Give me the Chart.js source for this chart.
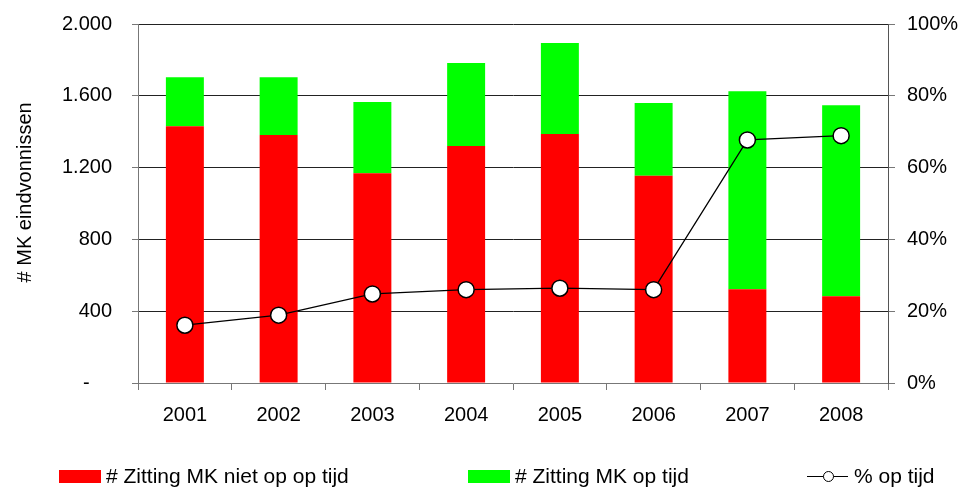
<!DOCTYPE html>
<html>
<head>
<meta charset="utf-8">
<script src="https://cdn.jsdelivr.net/npm/chart.js@4.4.1/dist/chart.umd.min.js"></script>
<style>
  html, body { margin: 0; padding: 0; background: #fff; }
  #wrap { position: relative; width: 965px; height: 487px; overflow: hidden; font-family: "Liberation Sans", Arial, sans-serif; }
  #c { position: absolute; left: 0; top: 0; }
  .lg { position: absolute; top: 464px; height: 24px; line-height: 24px; font-size: 21px; color: #000; white-space: nowrap; }
  .sw { position: absolute; top: 6px; width: 42px; height: 13px; }
  .ln { position: absolute; top: 12px; left: 0; width: 41px; height: 1px; background: #000; }
  .pt { position: absolute; top: 7px; left: 16px; width: 9px; height: 9px; border: 1px solid #000; border-radius: 50%; background: #fff; }
</style>
</head>
<body>
<div id="wrap">
  <canvas id="c" width="965" height="487"></canvas>
  <div id="legend"></div>
</div>
<script>
// ---- data ----
const years = ['2001', '2002', '2003', '2004', '2005', '2006', '2007', '2008'];
const nietOpTijd = [1431, 1381, 1169, 1321, 1387, 1154, 522, 483];
const opTijd = [273, 323, 396, 462, 507, 406, 1104, 1065];
const pctOpTijd = [16.1, 18.9, 24.8, 26.0, 26.4, 26.0, 67.7, 68.9];
const leftTickLabels = ['-', '400', '800', '1.200', '1.600', '2.000'];
const rightTickLabels = ['0%', '20%', '40%', '60%', '80%', '100%'];
const seriesNames = ['# Zitting MK niet op op tijd', '# Zitting MK op tijd', '% op tijd'];
const yTitle = '# MK eindvonnissen';

Chart.defaults.font.family = '"Liberation Sans", Arial, sans-serif';
Chart.defaults.font.size = 20;
Chart.defaults.color = '#000';

const gridDark = '#222';
const axisGray = '#777';

new Chart(document.getElementById('c'), {
  type: 'bar',
  data: {
    labels: years,
    datasets: [
      {
        type: 'line',
        label: seriesNames[2],
        data: pctOpTijd,
        yAxisID: 'y1',
        borderColor: '#000',
        borderWidth: 1.3,
        pointRadius: 8,
        pointBorderWidth: 1.5,
        pointBackgroundColor: '#fff',
        pointBorderColor: '#000',
        tension: 0,
        order: 0
      },
      {
        label: seriesNames[0],
        data: nietOpTijd,
        backgroundColor: '#ff0000',
        yAxisID: 'y',
        stack: 's',
        barPercentage: 0.405,
        categoryPercentage: 1,
        order: 1
      },
      {
        label: seriesNames[1],
        data: opTijd,
        backgroundColor: '#00ff00',
        yAxisID: 'y',
        stack: 's',
        barPercentage: 0.405,
        categoryPercentage: 1,
        order: 1
      }
    ]
  },
  options: {
    responsive: false,
    animation: false,
    devicePixelRatio: 1,
    layout: { padding: { top: 24, bottom: 64, left: 0, right: 0 } },
    plugins: { legend: { display: false }, tooltip: { enabled: false } },
    scales: {
      x: {
        stacked: true,
        offset: true,
        grid: { offset: true, drawOnChartArea: false, drawTicks: true, tickLength: 7, tickColor: axisGray },
        border: { color: axisGray, width: 1 },
        ticks: { padding: 13, font: { size: 20 } },
        afterFit: s => { s.height = 40; }
      },
      y: {
        stacked: true,
        position: 'left',
        min: 0, max: 2000,
        ticks: {
          stepSize: 400,
          padding: 20,
          font: { size: 20 },
          callback: (v, i) => i === 0 ? leftTickLabels[i] + '    ' : leftTickLabels[i]
        },
        grid: {
          color: ctx => ctx.index === 0 ? 'rgba(0,0,0,0)' : gridDark,
          lineWidth: 1,
          tickLength: 6,
          tickColor: axisGray
        },
        border: { color: axisGray, width: 1 },
        title: { display: true, text: '    ' + yTitle, font: { size: 20 }, padding: { top: 13, bottom: 0 } },
        afterFit: s => { s.width = 138; s.paddingTop = 12; s.paddingBottom = 12; }
      },
      y1: {
        position: 'right',
        min: 0, max: 100,
        ticks: {
          stepSize: 20,
          padding: 12,
          font: { size: 20 },
          callback: (v, i) => rightTickLabels[i]
        },
        grid: { drawOnChartArea: false, tickLength: 7, tickColor: axisGray },
        border: { color: '#555', width: 1 },
        afterFit: s => { s.width = 77; s.paddingTop = 12; s.paddingBottom = 12; }
      }
    }
  }
});

// ---- HTML legend ----
const lg = document.getElementById('legend');
const legendLeft = [59, 468, 807];
const legendColors = ['#ff0000', '#00ff00', null];
seriesNames.forEach((name, i) => {
  const item = document.createElement('div');
  item.className = 'lg';
  item.style.left = legendLeft[i] + 'px';
  let marker;
  if (legendColors[i]) {
    marker = '<span class="sw" style="left:0;background:' + legendColors[i] + '"></span>';
  } else {
    marker = '<span class="ln"></span><span class="pt"></span>';
  }
  item.innerHTML = marker + '<span style="position:absolute;left:47px;top:0">' + name + '</span>';
  lg.appendChild(item);
});
</script>
</body>
</html>
